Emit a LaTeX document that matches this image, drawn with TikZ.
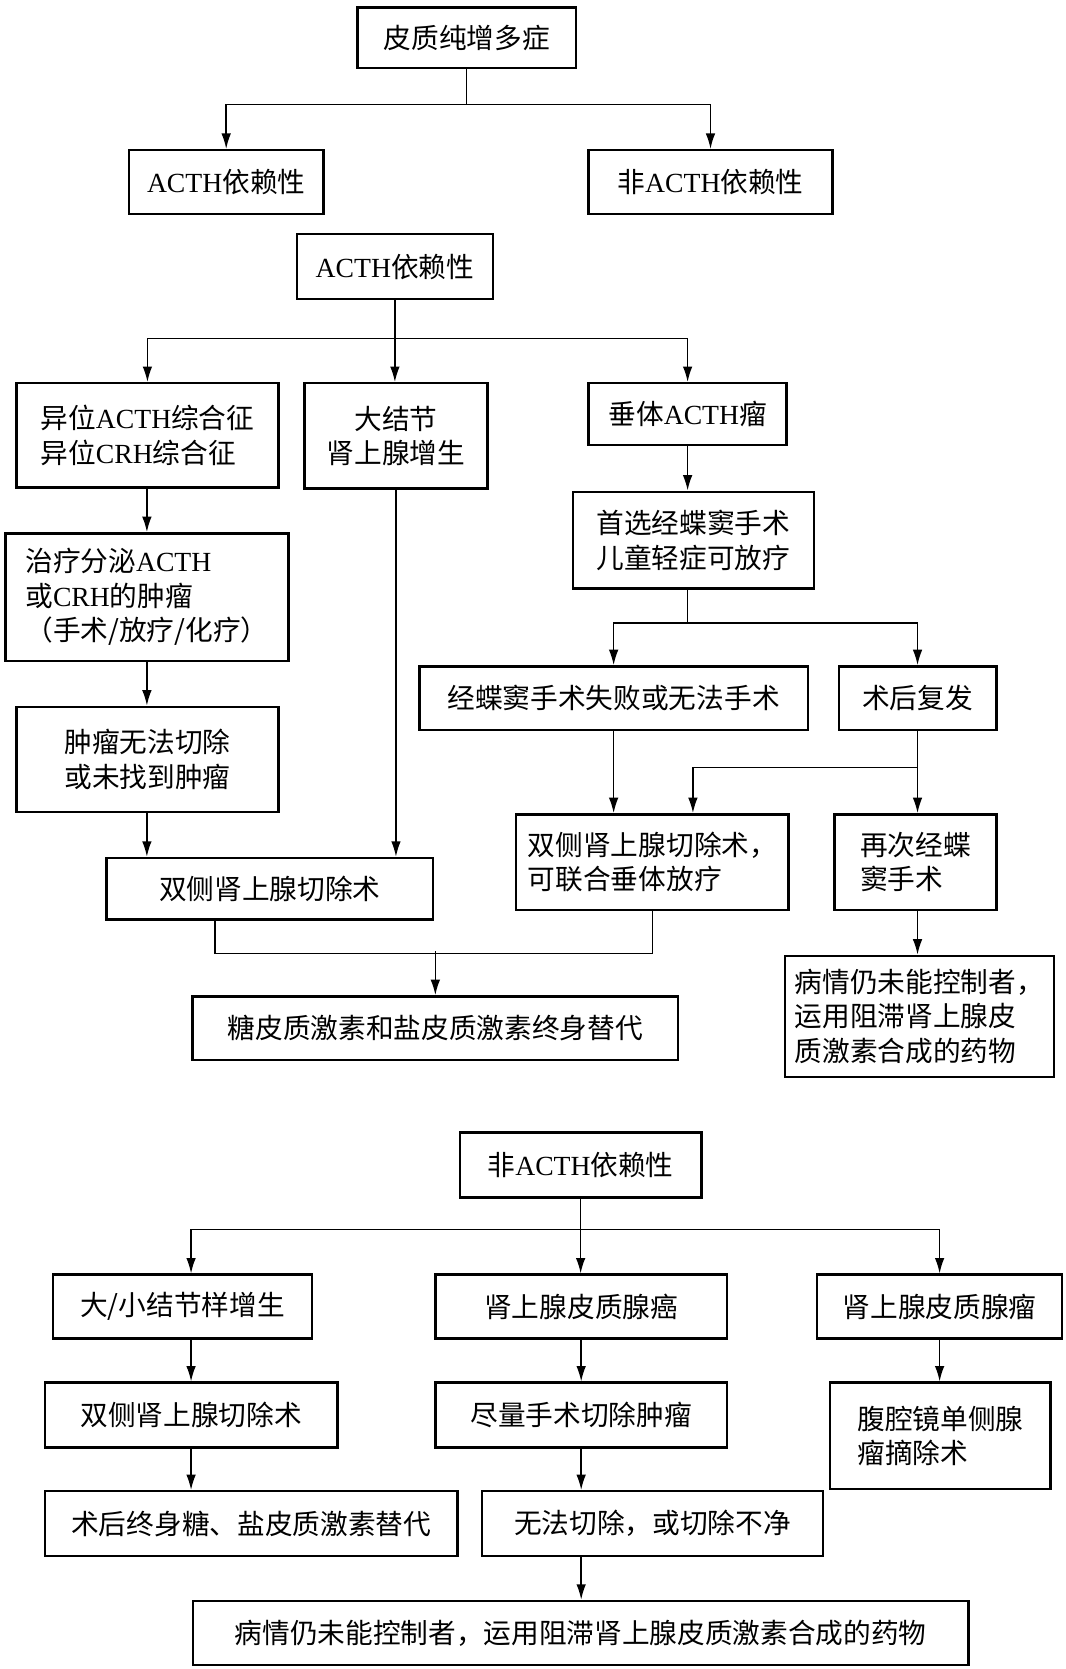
\documentclass[tikz,border=0pt]{standalone}
\usepackage{fontspec}
\setmainfont{Noto Sans CJK SC}
\newfontfamily\enfont{Liberation Serif}
\newcommand\en[1]{{\enfont #1}}
\usetikzlibrary{arrows.meta}
\tikzset{
	box/.style={draw, line width=1.3pt, inner sep=0pt, align=center, font=\fontsize{14.8}{18.5}\selectfont},
	link/.style={line width=0.8pt},
	arr/.style={line width=0.8pt, -{Latex[length=2.9mm,width=1.8mm]}},
}

\begin{document}
\begin{tikzpicture}[x=0.02cm, y=-0.02cm]
			%%%%% START %%%%%
			
			\fill[white] (0, 0) rectangle (1001, 1568);
			\useasboundingbox (0, 0) rectangle (1001, 1568);
			
			\node[box, minimum width=4.1cm, minimum height=1.14cm] (top) at (438.5, 35.5) {皮质纯增多症};
			\node[box, minimum width=3.66cm, minimum height=1.2cm] (depA) at (212.5, 171) {\en{ACTH}依赖性};
			\node[box, minimum width=4.58cm, minimum height=1.2cm] (indA) at (667.5, 171) {非\en{ACTH}依赖性};
			
			\draw[link] (top.south) -- ++(0, 33) coordinate (s1);
			\draw[arr] (s1) -| (depA);
			\draw[arr] (s1) -| (indA);
			
			\node[box, minimum width=3.68cm, minimum height=1.22cm] (depB) at (371, 250.5) {\en{ACTH}依赖性};
			\node[box, minimum width=4.92cm, minimum height=1.96cm, align=left] (ecto) at (138.5, 409) {异位\en{ACTH}综合征\\异位\en{CRH}综合征};
			\node[box, minimum width=3.44cm, minimum height=1.98cm] (macro) at (372, 409.5) {大结节\\肾上腺增生};
			\node[box, minimum width=3.72cm, minimum height=1.16cm] (pit) at (646, 389) {垂体\en{ACTH}瘤};
			
			\draw[link] (depB.south) -- ++(0, 36) coordinate (s2);
			\draw[arr] (s2) -| (ecto);
			\draw[arr] (s2) -- (s2 |- macro.north);
			\draw[arr] (s2) -| (pit);
			
			\node[box, minimum width=4.52cm, minimum height=1.82cm] (tss) at (651.5, 507.5) {首选经蝶窦手术\\儿童轻症可放疗};
			\node[box, minimum width=7.3cm, minimum height=1.2cm] (fail) at (576.5, 656) {经蝶窦手术失败或无法手术};
			\node[box, minimum width=2.96cm, minimum height=1.2cm] (relap) at (862, 656) {术后复发};
			\node[box, minimum width=5.12cm, minimum height=1.8cm, align=left] (bilB) at (613, 810) {双侧肾上腺切除术，\\可联合垂体放疗};
			\node[box, minimum width=3.04cm, minimum height=1.8cm, align=left] (redo) at (860, 810) {再次经蝶\\窦手术};
			\node[box, minimum width=5.06cm, minimum height=2.28cm, align=left] (drugA) at (863.8, 955) {病情仍未能控制者，\\运用阻滞肾上腺皮\\质激素合成的药物};
			
			\draw[arr] (pit) -- (pit |- tss.north);
			\draw[link] (pit |- tss.south) -- ++(0, 31) coordinate (s3);
			\draw[arr] (s3) -| (fail);
			\draw[arr] (s3) -| (relap);
			\draw[arr] (fail) -- (fail |- bilB.north);
			\draw[arr] (relap) -- (relap |- redo.north);
			\draw[arr] (relap.south) -- ++(0, 34) -| ([xshift=0.76cm]bilB.north);
			\draw[arr] (relap |- redo.south) -- (relap |- drugA.north);
			
			\node[box, minimum width=5.32cm, minimum height=2.4cm, align=left] (treat) at (138, 561) {治疗分泌\en{ACTH}\\或\en{CRH}的肿瘤\\（手术/放疗/化疗）};
			\node[box, minimum width=4.92cm, minimum height=1.98cm] (unres) at (138.5, 713.5) {肿瘤无法切除\\或未找到肿瘤};
			\node[box, minimum width=6.14cm, minimum height=1.16cm] (bilA) at (253.5, 835) {双侧肾上腺切除术};
			\node[box, minimum width=9.12cm, minimum height=1.2cm] (repl) at (409, 966) {糖皮质激素和盐皮质激素终身替代};
			
			\draw[arr] (treat |- ecto.south) -- (treat.north);
			\draw[arr] (treat.south) -- (treat |- unres.north);
			\draw[arr] (treat |- unres.south) -- (treat |- bilA.north);
			\draw[arr] (macro) -- (macro |- bilA.north);
			\draw[link] ([xshift=-1.03cm]bilA.south) |- ([yshift=-0.794cm]bilB.south) -- (bilB.south);
			\draw[arr] ([yshift=0.826cm]repl.north) -- (repl.north);
			
			\node[box, minimum width=4.54cm, minimum height=1.22cm] (indB) at (545.5, 1094.5) {非\en{ACTH}依赖性};
			\node[box, minimum width=4.86cm, minimum height=1.2cm] (nodu) at (171.5, 1227.5) {大/小结节样增生};
			\node[box, minimum width=5.48cm, minimum height=1.2cm] (carc) at (546, 1227.5) {肾上腺皮质腺癌};
			\node[box, minimum width=4.6cm, minimum height=1.2cm] (aden) at (882.75, 1227.5) {肾上腺皮质腺瘤};
			\node[box, minimum width=5.5cm, minimum height=1.22cm] (bilC) at (179.5, 1329.5) {双侧肾上腺切除术};
			\node[box, minimum width=5.48cm, minimum height=1.22cm] (resec) at (546, 1329.5) {尽量手术切除肿瘤};
			\node[box, minimum width=4.14cm, minimum height=2cm, align=left] (lap) at (883.5, 1349) {腹腔镜单侧腺\\瘤摘除术};
			\node[box, minimum width=7.76cm, minimum height=1.22cm] (life) at (236, 1431.5) {术后终身糖、盐皮质激素替代};
			\node[box, minimum width=6.4cm, minimum height=1.22cm] (incom) at (613, 1431.5) {无法切除，或切除不净};
			\node[box, minimum width=14.58cm, minimum height=1.2cm] (drugB) at (545.5, 1534) {病情仍未能控制者，运用阻滞肾上腺皮质激素合成的药物};
			
			\draw[link] (indB.south) -- ++(0, 29) coordinate (s4);
			\draw[arr] (s4) -| (bilC |- nodu.north);
			\draw[arr] (s4) -- (s4 |- carc.north);
			\draw[arr] (s4) -| (aden);
			\draw[arr] (bilC |- nodu.south) -- (bilC);
			\draw[arr] (bilC) -- (bilC |- life.north);
			\draw[arr] (carc) -- (resec);
			\draw[arr] (resec) -- (resec |- incom.north);
			\draw[arr] (resec |- incom.south) -- (resec |- drugB.north);
			\draw[arr] (aden) -- (aden |- lap.north);
			
			%%%%% END %%%%%
\end{tikzpicture}
\end{document}
